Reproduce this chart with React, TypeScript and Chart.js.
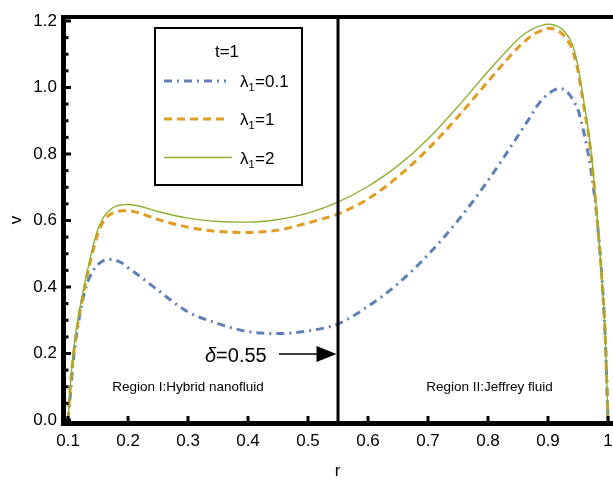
import React, { useEffect, useRef } from 'react';
import { Chart, registerables } from 'chart.js';

Chart.register(...registerables);

// ---- data ----
const rValues = [0.1, 0.105, 0.11, 0.115, 0.12, 0.125, 0.13, 0.135, 0.14, 0.145, 0.15, 0.16, 0.17, 0.18, 0.19, 0.2, 0.22, 0.25, 0.3, 0.35, 0.4, 0.45, 0.5, 0.55, 0.6, 0.65, 0.7, 0.75, 0.8, 0.85, 0.86, 0.87, 0.88, 0.89, 0.9, 0.91, 0.92, 0.93, 0.94, 0.945, 0.95, 0.96, 0.97, 0.98, 0.99, 0.995, 1.0];
const vLambda01 = [0, 0.1, 0.2, 0.265, 0.32, 0.365, 0.4, 0.425, 0.443, 0.458, 0.468, 0.48, 0.483, 0.48, 0.472, 0.458, 0.432, 0.39, 0.325, 0.29, 0.266, 0.26, 0.268, 0.289, 0.342, 0.41, 0.497, 0.6, 0.72, 0.855, 0.883, 0.91, 0.94, 0.963, 0.98, 0.992, 0.997, 0.99, 0.968, 0.952, 0.933, 0.863, 0.77, 0.635, 0.425, 0.265, 0];
const vLambda1 = [0, 0.125, 0.21, 0.275, 0.33, 0.375, 0.42, 0.46, 0.497, 0.532, 0.562, 0.6, 0.618, 0.626, 0.629, 0.629, 0.622, 0.603, 0.58, 0.567, 0.564, 0.571, 0.593, 0.62, 0.665, 0.732, 0.815, 0.912, 1.018, 1.12, 1.137, 1.152, 1.164, 1.172, 1.178, 1.176, 1.167, 1.149, 1.116, 1.088, 1.05, 0.94, 0.825, 0.645, 0.415, 0.27, 0];
const vLambda2 = [0, 0.13, 0.22, 0.285, 0.34, 0.385, 0.43, 0.47, 0.51, 0.545, 0.575, 0.612, 0.632, 0.643, 0.647, 0.648, 0.643, 0.627, 0.607, 0.597, 0.595, 0.603, 0.622, 0.655, 0.703, 0.765, 0.845, 0.943, 1.048, 1.145, 1.16, 1.172, 1.181, 1.187, 1.19, 1.188, 1.18, 1.163, 1.132, 1.103, 1.065, 0.955, 0.835, 0.65, 0.42, 0.275, 0];

const xTickValues = [0.1, 0.2, 0.3, 0.4, 0.5, 0.6, 0.7, 0.8, 0.9, 1.0];
const xTickLabels = ['0.1', '0.2', '0.3', '0.4', '0.5', '0.6', '0.7', '0.8', '0.9', '1'];
const yTickValues = [0, 0.2, 0.4, 0.6, 0.8, 1.0, 1.2];
const yTickLabels = ['0.0', '0.2', '0.4', '0.6', '0.8', '1.0', '1.2'];
const seriesValues = ['0.1', '1', '2'];
const legendTitle = 't=1';
const deltaValue = 0.55;
const deltaLabel = '=0.55';
const regionLabels = ['Region I:Hybrid nanofluid', 'Region II:Jeffrey fluid'];
const xTitle = 'r';
const yTitle = 'v';

const COLORS = ['#5E81B5', '#E19C24', '#8FB032'];
const DASHES = [[8, 5, 2, 5], [8, 5], []];
const WIDTHS = [3, 3, 1.4];
const FONT = "'Liberation Sans', Arial, sans-serif";

const toPoints = (ys: number[]) => rValues.map((r, i) => ({ x: r, y: ys[i] }));

const overlayPlugin = {
  id: 'overlay',
  afterDraw(chart: any) {
    const { ctx, chartArea: a, scales } = chart;
    const x = scales.x;
    const y = scales.y;
    ctx.save();
    ctx.strokeStyle = '#000';
    ctx.fillStyle = '#000';

    // delta vertical line
    const dx = x.getPixelForValue(deltaValue);
    ctx.lineWidth = 3;
    ctx.beginPath();
    ctx.moveTo(dx, a.top);
    ctx.lineTo(dx, a.bottom);
    ctx.stroke();

    // y minor/major ticks (inward)
    ctx.lineWidth = 3;
    for (let k = 0; k <= 24; k++) {
      const py = y.getPixelForValue(k * 0.05);
      const len = k % 4 === 0 ? 7 : 4.5;
      ctx.beginPath();
      ctx.moveTo(a.left, py);
      ctx.lineTo(a.left + len, py);
      ctx.stroke();
    }
    // x ticks (inward)
    for (const v of xTickValues) {
      const px = x.getPixelForValue(v);
      ctx.beginPath();
      ctx.moveTo(px, a.bottom);
      ctx.lineTo(px, a.bottom - 7);
      ctx.stroke();
    }

    // frame
    ctx.lineWidth = 5;
    ctx.beginPath();
    ctx.moveTo(a.left - 0.5, a.top - 2);
    ctx.lineTo(a.left - 0.5, a.bottom + 2.5);
    ctx.stroke();
    ctx.lineWidth = 4;
    ctx.beginPath();
    ctx.moveTo(a.left - 3, a.top);
    ctx.lineTo(chart.width, a.top);
    ctx.stroke();
    ctx.lineWidth = 5;
    ctx.beginPath();
    ctx.moveTo(a.left - 3, a.bottom + 0.5);
    ctx.lineTo(chart.width, a.bottom + 0.5);
    ctx.stroke();

    // legend box
    const lx = 155, ly = 28, lw = 147, lh = 157;
    ctx.fillStyle = '#fff';
    ctx.fillRect(lx, ly, lw, lh);
    ctx.lineWidth = 2;
    ctx.strokeStyle = '#000';
    ctx.strokeRect(lx, ly, lw, lh);
    ctx.fillStyle = '#000';
    ctx.font = `17px ${FONT}`;
    ctx.textAlign = 'center';
    ctx.textBaseline = 'alphabetic';
    ctx.fillText(legendTitle, 227, 57);
    const rowY = [81, 119, 157.5];
    const sampleEnd = [226, 226, 232];
    for (let i = 0; i < 3; i++) {
      ctx.strokeStyle = COLORS[i];
      ctx.lineWidth = WIDTHS[i];
      ctx.setLineDash(DASHES[i]);
      ctx.beginPath();
      ctx.moveTo(164, rowY[i]);
      ctx.lineTo(sampleEnd[i], rowY[i]);
      ctx.stroke();
      ctx.setLineDash([]);
      ctx.fillStyle = '#000';
      ctx.textAlign = 'left';
      let tx = 240;
      const base = rowY[i] + 6;
      ctx.font = `17px ${FONT}`;
      ctx.fillText('λ', tx, base);
      tx += ctx.measureText('λ').width;
      ctx.font = `11px ${FONT}`;
      ctx.fillText('1', tx, base + 4);
      tx += ctx.measureText('1').width + 0.5;
      ctx.font = `17px ${FONT}`;
      ctx.fillText('=' + seriesValues[i], tx, base);
    }

    // delta annotation
    ctx.fillStyle = '#000';
    ctx.strokeStyle = '#000';
    ctx.textAlign = 'left';
    ctx.font = `italic 20px ${FONT}`;
    let ax = 205;
    ctx.fillText('δ', ax, 362);
    ax += ctx.measureText('δ').width;
    ctx.font = `20px ${FONT}`;
    ctx.fillText(deltaLabel, ax, 362);
    ctx.lineWidth = 1.5;
    ctx.beginPath();
    ctx.moveTo(279, 354);
    ctx.lineTo(318, 354);
    ctx.stroke();
    ctx.beginPath();
    ctx.moveTo(dx - 1.5, 354);
    ctx.lineTo(316.5, 346);
    ctx.lineTo(316.5, 362);
    ctx.closePath();
    ctx.fill();

    // region labels
    ctx.font = `13.5px ${FONT}`;
    ctx.textAlign = 'center';
    ctx.fillText(regionLabels[0], 188, 391);
    ctx.fillText(regionLabels[1], 489.5, 391);

    ctx.restore();
  },
};

export default function App() {
  const ref = useRef<HTMLCanvasElement | null>(null);
  useEffect(() => {
    if (!ref.current) return;
    const chart = new Chart(ref.current, {
      type: 'line',
      data: {
        datasets: [vLambda01, vLambda1, vLambda2].map((ys, i) => ({
          label: 'λ1=' + seriesValues[i],
          data: toPoints(ys),
          borderColor: COLORS[i],
          borderWidth: WIDTHS[i],
          borderDash: DASHES[i],
          pointRadius: 0,
          fill: false,
          cubicInterpolationMode: 'monotone' as const,
          order: 2 - i,
        })),
      },
      options: {
        animation: false,
        responsive: true,
        maintainAspectRatio: false,
        events: [],
        layout: { padding: { top: 17, right: 2, left: 0, bottom: 0 } },
        plugins: { legend: { display: false }, tooltip: { enabled: false } },
        scales: {
          x: {
            type: 'linear',
            min: 0.0933,
            max: 1.005,
            grid: { display: false, drawTicks: false },
            border: { display: false },
            afterBuildTicks: (s: any) => { s.ticks = xTickValues.map((v) => ({ value: v })); },
            afterFit: (s: any) => { s.height = 62; s.paddingLeft = 0; s.paddingRight = 0; },
            ticks: {
              autoSkip: false,
              maxRotation: 0,
              padding: 8,
              color: '#000',
              font: { family: FONT, size: 17 },
              callback: (_v: any, i: number) => xTickLabels[i],
            },
            title: { display: true, text: xTitle, color: '#000', font: { family: FONT, size: 17 }, padding: { top: 0, bottom: 3 } },
          },
          y: {
            type: 'linear',
            min: -0.009,
            max: 1.212,
            grid: { display: false, drawTicks: false },
            border: { display: false },
            afterBuildTicks: (s: any) => { s.ticks = yTickValues.map((v) => ({ value: v })); },
            afterFit: (s: any) => { s.width = 64; s.paddingTop = 0; s.paddingBottom = 0; },
            ticks: {
              autoSkip: false,
              padding: 7,
              color: '#000',
              font: { family: FONT, size: 17 },
              callback: (_v: any, i: number) => yTickLabels[i],
            },
            title: { display: true, text: yTitle, color: '#000', font: { family: FONT, size: 17 }, padding: { top: 6, bottom: 0 } },
          },
        },
      },
      plugins: [overlayPlugin],
    } as any);
    return () => chart.destroy();
  }, []);
  return (
    <div style={{ position: 'absolute', left: 0, top: 0, width: 613, height: 485, background: '#fff' }}>
      <canvas ref={ref} />
    </div>
  );
}
